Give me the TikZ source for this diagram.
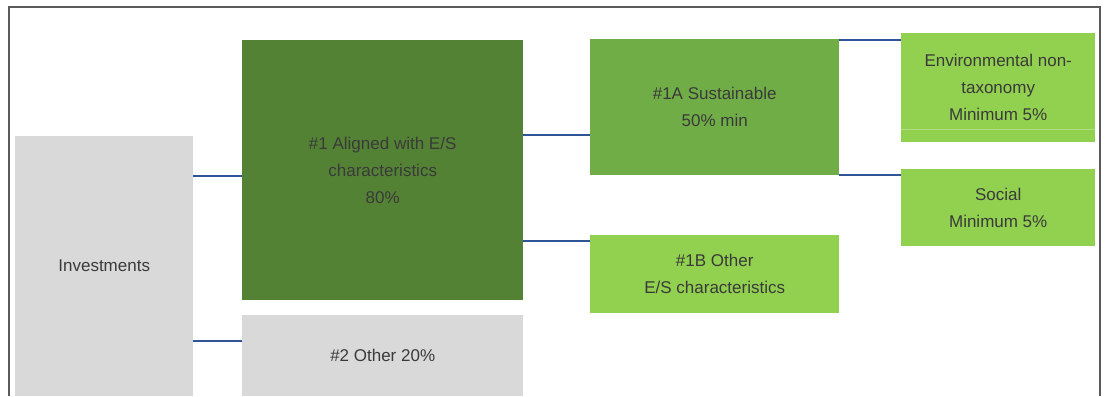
\documentclass[tikz,border=0pt]{standalone}
\usepackage{fontspec}
\setmainfont{Liberation Sans}
\definecolor{boxgray}{HTML}{D9D9D9}
\definecolor{darkgreen}{HTML}{548235}
\definecolor{midgreen}{HTML}{70AD47}
\definecolor{lightgreen}{HTML}{92D050}
\definecolor{linkblue}{HTML}{2F5597}
\definecolor{textgray}{HTML}{3A3A3A}
\definecolor{framegray}{HTML}{5A5A5A}
\begin{document}
\begin{tikzpicture}[x=1pt,y=-1pt,
  every node/.style={font=\fontsize{17}{27}\selectfont,text=textgray,align=center,inner sep=0pt},
  block/.style={rectangle,anchor=north west,draw=none},
  link/.style={draw=linkblue,line width=2.6pt}]
\useasboundingbox (0,0) rectangle (1105,396);
\fill[white] (0,0) rectangle (1105,396);
\draw[framegray,line width=1.5pt] (9,396) -- (9,7) -- (1100,7) -- (1100,396);
% boxes
\node[block,fill=boxgray,minimum width=178pt,minimum height=260pt] (inv) at (15,136) {Investments};
\node[block,fill=darkgreen,minimum width=281pt,minimum height=260pt] (one) at (242,40) {\#1 Aligned with E/S\\characteristics\\80\%};
\node[block,fill=boxgray,minimum width=281pt,minimum height=81pt] (two) at (242,315) {\#2 Other 20\%};
\node[block,fill=midgreen,minimum width=249pt,minimum height=136pt] (onea) at (590,39) {\#1A Sustainable\\50\% min};
\node[block,fill=lightgreen,minimum width=249pt,minimum height=78pt] (oneb) at (590,235) {\#1B Other\\E/S characteristics};
\node[block,fill=lightgreen,minimum width=194pt,minimum height=109pt] (env) at (901,33) {Environmental non-\\taxonomy\\Minimum 5\%};
\draw[lightgreen!70!white,line width=0.8pt] (env.west |- 0,129) -- (env.east |- 0,129);
\node[block,fill=lightgreen,minimum width=194pt,minimum height=77pt] (soc) at (901,169) {Social\\Minimum 5\%};
% connectors
\draw[link] (inv.east |- 0,176) -- (one.west |- 0,176);
\draw[link] (inv.east |- 0,341) -- (two.west |- 0,341);
\draw[link] (one.east |- 0,135) -- (onea.west |- 0,135);
\draw[link] (one.east |- 0,241) -- (oneb.west |- 0,241);
\draw[link] (onea.east |- 0,40) -- (env.west |- 0,40);
\draw[link] (onea.east |- 0,175) -- (soc.west |- 0,175);
\end{tikzpicture}
\end{document}
